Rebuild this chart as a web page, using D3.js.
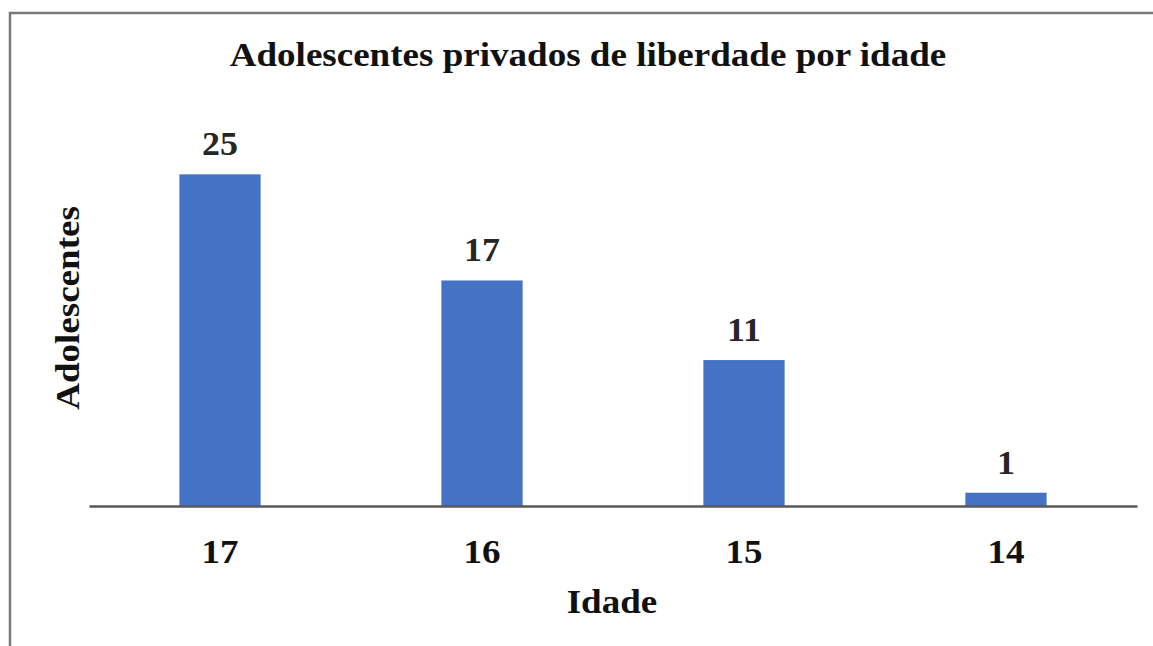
<!DOCTYPE html>
<html>
<head>
<meta charset="utf-8">
<script src="https://cdn.jsdelivr.net/npm/d3@7"></script>
<style>
  body { margin: 0; background: #fff; }
  svg { display: block; font-family: "Liberation Serif", "Times New Roman", serif; font-weight: bold; }
</style>
</head>
<body>
<svg id="chart"></svg>
<script>
const ages = ["17", "16", "15", "14"]
const counts = [25, 17, 11, 1]
const title = "Adolescentes privados de liberdade por idade"
const xTitle = "Idade"
const yTitle = "Adolescentes"

const width = 1153
const height = 646
const margin = { top: 108, right: 16, bottom: 140, left: 89 }
const stretch = 1.09 // text in the picture is a bit wider than normal

const svg = d3.select("#chart").attr("width", width).attr("height", height)

// outer frame (runs off the right and bottom edge)
svg.append("rect")
  .attr("x", 10).attr("y", 13)
  .attr("width", width + 20).attr("height", height + 20)
  .attr("fill", "none").attr("stroke", "#7a7a7a").attr("stroke-width", 2.5)

const x = d3.scaleBand().domain(ages).range([margin.left, width - margin.right]).paddingInner(0.69).paddingOuter(0.345)
const y = d3.scaleLinear().domain([0, 30]).range([height - margin.bottom, margin.top])

const txt = (sel, px, py, size, extra) => {
  return sel.append("text")
    .attr("transform", `translate(${px},${py}) ${extra || ""} scale(${stretch},1)`)
    .attr("text-anchor", "middle")
    .style("font-size", size + "px")
    .attr("fill", "#111")
}

// bars
svg.selectAll("rect.bar")
  .data(counts)
  .enter()
  .append("rect")
  .attr("class", "bar")
  .attr("x", (d, i) => x(ages[i]))
  .attr("width", x.bandwidth())
  .attr("y", (d) => y(d))
  .attr("height", (d) => y(0) - y(d))
  .attr("fill", "#4472c4")

// value labels
counts.forEach((d, i) => {
  txt(svg, x(ages[i]) + x.bandwidth() / 2, y(d) - 19, 33).text(d).attr("fill", "#262626")
})

// x axis
const xAxis = d3.axisBottom(x).tickSize(0).tickPadding(0)
const gx = svg.append("g").attr("transform", `translate(0, ${y(0)})`).call(xAxis)
gx.select(".domain").attr("stroke", "#595959").attr("stroke-width", 2.5)
gx.selectAll(".tick text").remove()
ages.forEach((a) => {
  txt(svg, x(a) + x.bandwidth() / 2, 563, 34).text(a)
})

// titles
txt(svg, 588, 66, 34).text(title)
txt(svg, 612, 613, 34).text(xTitle)
svg.append("text")
  .attr("transform", `translate(79, 308) rotate(-90) scale(${stretch},1)`)
  .attr("text-anchor", "middle")
  .style("font-size", "34px")
  .attr("fill", "#111")
  .text(yTitle)
</script>
</body>
</html>
